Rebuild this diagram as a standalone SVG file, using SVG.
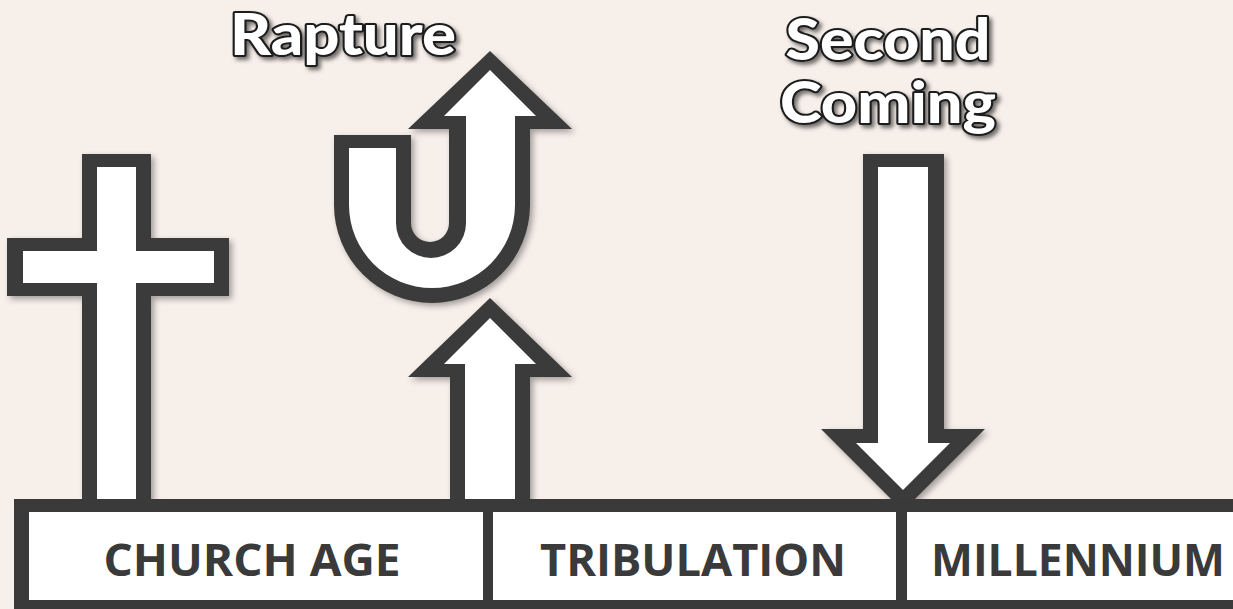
<svg xmlns="http://www.w3.org/2000/svg" width="1233" height="609" viewBox="0 0 1233 609">
  <defs>
    <filter id="sh" x="-20%" y="-20%" width="140%" height="140%">
      <feDropShadow dx="3" dy="3" stdDeviation="3" flood-color="#000" flood-opacity="0.35"/>
    </filter>
    <filter id="tsh" x="-20%" y="-30%" width="140%" height="160%">
      <feDropShadow dx="3" dy="3" stdDeviation="2" flood-color="#000" flood-opacity="0.55"/>
    </filter>
  </defs>
  <style>
    .dk { fill: #3a3a3a; }
    .wt { fill: #ffffff; }
    .title { font-family: Lato, "Open Sans", "Liberation Sans", sans-serif; font-weight: 900; font-size: 58px; fill: #ffffff; stroke: #1c1c1c; stroke-width: 4; paint-order: stroke; stroke-linejoin: round; text-anchor: middle; }
    .lbl { font-family: "Open Sans", "Liberation Sans", sans-serif; font-weight: 700; font-size: 44px; fill: #3a3a3a; text-anchor: middle; }
  </style>
  <rect width="1233" height="609" fill="#f7efea"/>

  <g id="cross" filter="url(#sh)">
    <polygon class="dk" points="82,154 151,154 151,238 229,238 229,296 151,296 151,505 82,505 82,296 7,296 7,238 82,238"/>
    <polygon class="wt" points="97,167 136,167 136,251 214,251 214,283 136,283 136,505 97,505 97,283 23,283 23,251 97,251"/>
  </g>

  <g id="rapture-arrow" filter="url(#sh)">
    <polygon class="dk" points="490,51 572,129 408,129"/>
    <path class="dk" d="M334,135 H411 V223 A19,19 0 0 0 449,223 V129 H530 V205 A98,98 0 0 1 334,205 Z"/>
    <path class="wt" d="M349,148 H396 V223 A35,35 0 0 0 466,223 V115 H515 V205 A83,83 0 0 1 349,205 Z"/>
    <polygon class="wt" points="490,70 536,116 444,116"/>
  </g>

  <g id="rise-arrow" filter="url(#sh)">
    <polygon class="dk" points="490,298 572,377 530,377 530,505 450,505 450,377 408,377"/>
    <polygon class="wt" points="490,318 536,364 515,364 515,505 465,505 465,364 444,364"/>
  </g>

  <g id="second-coming-arrow" filter="url(#sh)">
    <polygon class="dk" points="863,154 944,154 944,429 985,429 903,511 821,429 863,429"/>
    <polygon class="wt" points="878,167 928,167 928,443 950,443 903,490 856,443 878,443"/>
  </g>

  <g id="timeline">
    <rect class="dk" x="14" y="499" width="1230" height="115"/>
    <g id="church-age">
      <rect class="wt" x="29" y="512" width="454" height="88"/>
      <text class="lbl" x="252" y="576" textLength="297" lengthAdjust="spacingAndGlyphs">CHURCH AGE</text>
    </g>
    <g id="tribulation">
      <rect class="wt" x="493" y="512" width="403" height="88"/>
      <text class="lbl" x="693" y="576" textLength="306" lengthAdjust="spacingAndGlyphs">TRIBULATION</text>
    </g>
    <g id="millennium">
      <rect class="wt" x="907" y="512" width="330" height="88"/>
      <text class="lbl" x="1078" y="576" textLength="294" lengthAdjust="spacingAndGlyphs">MILLENNIUM</text>
    </g>
  </g>

  <g id="titles" filter="url(#tsh)">
    <text class="title" x="343" y="55" textLength="226" lengthAdjust="spacingAndGlyphs">Rapture</text>
    <text class="title" x="888" y="60" textLength="205" lengthAdjust="spacingAndGlyphs">Second</text>
    <text class="title" x="888" y="123" textLength="216" lengthAdjust="spacingAndGlyphs">Coming</text>
  </g>
</svg>
